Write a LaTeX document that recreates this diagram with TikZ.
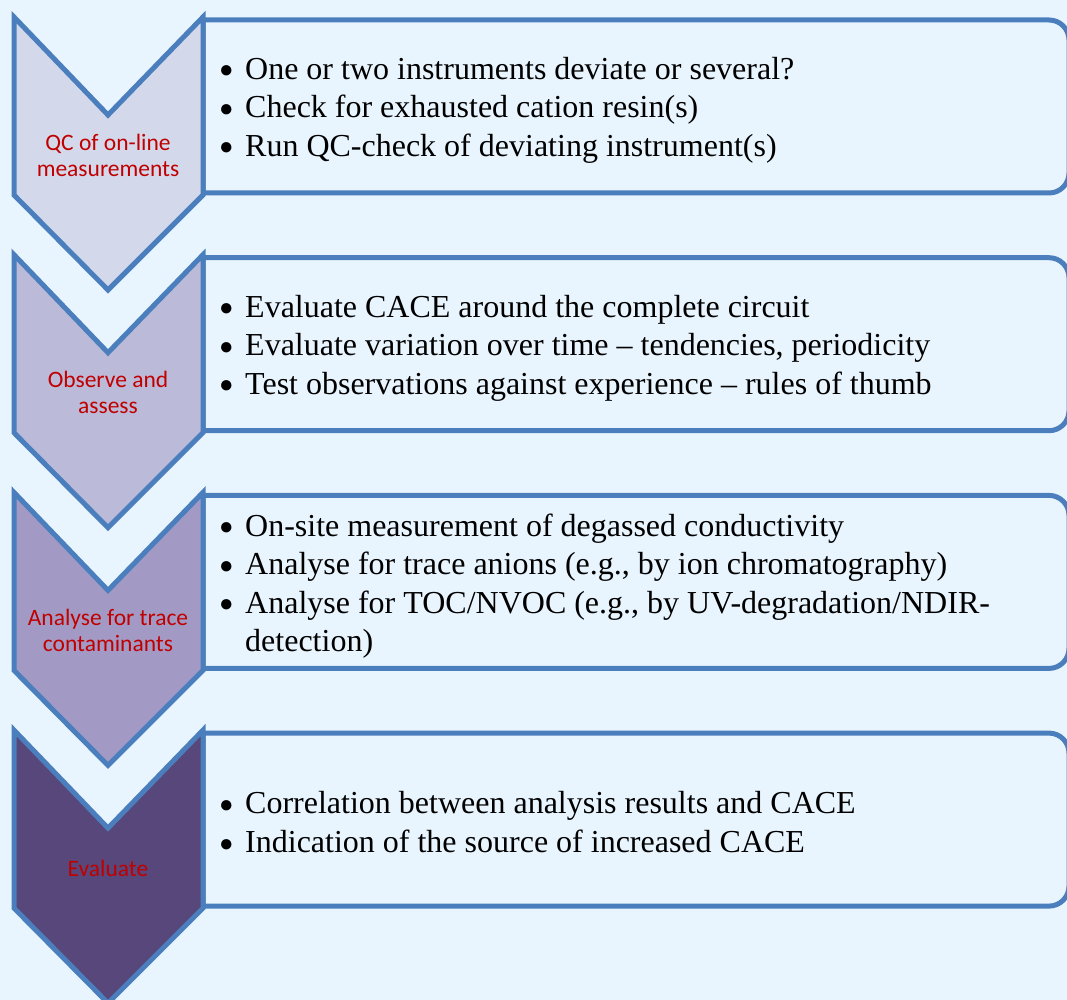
\documentclass[tikz,border=0pt]{standalone}
\usepackage{fontspec}
\setmainfont{Liberation Serif}
\newfontfamily\labelfont{Carlito}
\usetikzlibrary{positioning}

\definecolor{bgblue}{RGB}{233,245,254}
\definecolor{edgeblue}{RGB}{74,126,189}
\definecolor{labelred}{RGB}{192,0,0}
\definecolor{stepA}{RGB}{211,217,234}
\definecolor{stepB}{RGB}{187,186,217}
\definecolor{stepC}{RGB}{162,154,197}
\definecolor{stepD}{RGB}{88,71,122}

\newcommand{\dotmark}{\raisebox{1.2pt}{\fontsize{24}{24}\selectfont ●}}
\newcommand{\itm}{\dotmark\hspace{11.5pt}}
\newcommand{\hang}{\phantom{\dotmark}\hspace{11.5pt}}

\begin{document}
\begin{tikzpicture}[x=1pt, y=-1pt,
    chevron/.style={draw=edgeblue, line width=5pt, line join=miter},
    listbox/.style={draw=edgeblue, line width=5pt, fill=bgblue},
    steplabel/.style={text=labelred, font=\labelfont\fontsize{23.5}{26}\selectfont, align=center, inner sep=0pt},
    steplist/.style={anchor=west, font=\fontsize{32}{38.5}\selectfont, align=left, inner sep=0pt}]
  % Background
  \fill[bgblue] (0,0) rectangle (1067,1000);
  \useasboundingbox (0,0) rectangle (1067,1000);
  % Boxes, chevrons and step labels
  \foreach \i/\col/\lab in {0/stepA/{QC of on-line\\measurements},
                            1/stepB/{Observe and\\assess},
                            2/stepC/{Analyse for trace\\contaminants},
                            3/stepD/{Evaluate}} {
    \pgfmathsetmacro{\t}{17+237.7*\i}
    \draw[listbox] (203,\t+3) [rounded corners=20pt] -- (1069,\t+3) -- (1069,\t+176) [sharp corners] -- (203,\t+176) -- cycle;
    \draw[chevron, fill=\col] (14,\t) -- (108,\t+98) -- (203,\t) -- (203,\t+178) -- (108,\t+273) -- (14,\t+178) -- cycle;
    \node[steplabel] (label\i) at (108,\t+138) {\lab};
  }
  % Lists
  \node[steplist] (qclist) at (219,110) {\itm One or two instruments deviate or several?\\
    \itm Check for exhausted cation resin(s)\\
    \itm Run QC-check of deviating instrument(s)};
  \node[steplist] (observelist) at (219,348) {\itm Evaluate CACE around the complete circuit\\
    \itm Evaluate variation over time -- tendencies, periodicity\\
    \itm Test observations against experience -- rules of thumb};
  \node[steplist] (analyselist) at (219,586) {\itm On-site measurement of degassed conductivity\\
    \itm Analyse for trace anions (e.g., by ion chromatography)\\
    \itm Analyse for TOC/NVOC (e.g., by UV-degradation/NDIR-\\
    \hang detection)};
  \node[steplist] (evaluatelist) at (219,822) {\itm Correlation between analysis results and CACE\\
    \itm Indication of the source of increased CACE};
\end{tikzpicture}
\end{document}
